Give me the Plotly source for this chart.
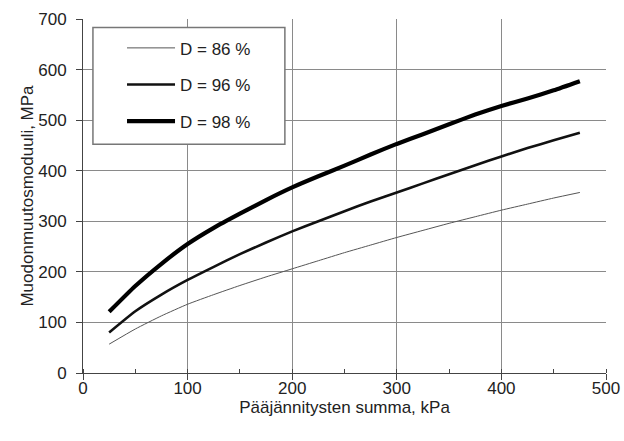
import plotly.graph_objects as go

x_kpa = [25, 50, 75, 100, 125, 150, 175, 200, 225, 250, 275, 300, 325, 350, 375, 400, 425, 450, 475]
d86 = [57, 87, 113, 136, 155, 173, 190, 206, 222, 238, 253, 268, 282, 296, 309, 322, 334, 346, 357]
d96 = [80, 122, 155, 184, 210, 235, 258, 280, 300, 320, 339, 357, 375, 393, 411, 428, 445, 460, 475]
d98 = [121, 172, 216, 255, 287, 315, 342, 367, 389, 410, 432, 453, 472, 492, 511, 528, 543, 559, 577]

series = [
    ("D = 86 %", d86, "#555555", 1.0),
    ("D = 96 %", d96, "#111111", 2.6),
    ("D = 98 %", d98, "#000000", 4.2),
]

FONT = "Liberation Sans, Arial, sans-serif"
TXT = "#222222"

fig = go.Figure()
for i, (name, vals, col, w) in enumerate(series):
    fig.add_trace(go.Scatter(x=x_kpa, y=vals, mode="lines", name=name,
                             legendgroup=f"g{i}",
                             line=dict(color=col, width=w, shape="spline", smoothing=0.5)))

fig.update_layout(
    width=624, height=441,
    margin=dict(l=83, r=18, t=18.5, b=67.6, autoexpand=False),
    paper_bgcolor="white", plot_bgcolor="white",
    font=dict(family=FONT, size=17, color=TXT),
    showlegend=True,
    legend=dict(x=0.0746, y=0.968, xanchor="left", yanchor="top",
                bgcolor="rgba(0,0,0,0)", borderwidth=0,
                tracegroupgap=11.5, itemwidth=48,
                font=dict(family=FONT, size=17, color=TXT)),
    shapes=[dict(type="rect", xref="paper", yref="paper",
                 x0=0.019, x1=0.386, y0=0.6465, y1=0.976,
                 fillcolor="white", line=dict(color="#777777", width=1.5),
                 layer="above")],
)

fig.update_xaxes(range=[0, 500], dtick=100, tick0=0, automargin=False,
                 showgrid=True, gridcolor="#8a8a8a", gridwidth=1,
                 showline=True, linecolor="#444444", linewidth=1,
                 ticks="outside", ticklen=6, tickcolor="#444444",
                 ticklabelstandoff=-6,
                 minor=dict(dtick=50, ticks="inside", ticklen=4, tickcolor="#444444", showgrid=False),
                 zeroline=False,
                 tickfont=dict(family=FONT, size=17, color=TXT),
                 title=dict(text="Pääjännitysten summa, kPa", standoff=1,
                            font=dict(family=FONT, size=17, color=TXT)))
fig.update_yaxes(range=[0, 700], dtick=100, tick0=0, automargin=False,
                 showgrid=True, gridcolor="#8a8a8a", gridwidth=1,
                 showline=True, linecolor="#444444", linewidth=1,
                 ticks="outside", ticklen=6, tickcolor="#444444",
                 ticklabelstandoff=6,
                 zeroline=False,
                 tickfont=dict(family=FONT, size=17, color=TXT),
                 title=dict(text="Muodonmuutosmoduuli, MPa", standoff=0,
                            font=dict(family=FONT, size=17, color=TXT)))

fig.write_html("out.html",
               config={"displayModeBar": False},
               post_script="document.body.style.margin='0';document.body.style.overflow='hidden';")
